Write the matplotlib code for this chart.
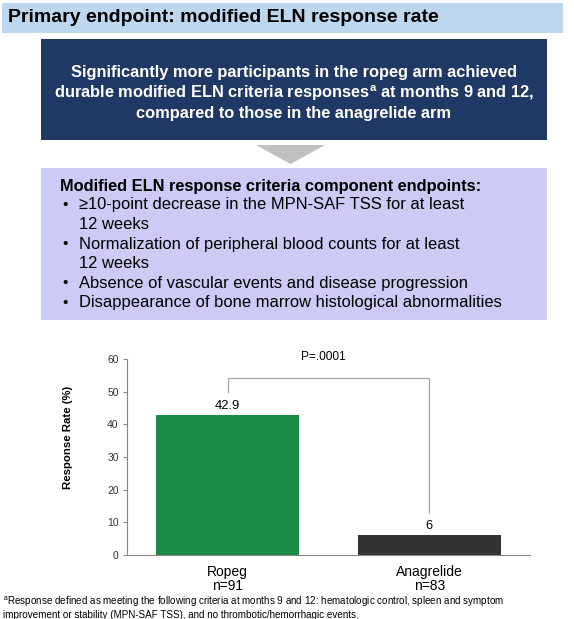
import matplotlib
matplotlib.use("Agg")
import matplotlib.pyplot as plt
from matplotlib.patches import Rectangle, Polygon

plt.rcParams['font.family'] = ['Liberation Sans', 'DejaVu Sans']

# data
arms = ['Ropeg', 'Anagrelide']
n_per_arm = [91, 83]
response_rate = [42.9, 6]
bar_colors = ['#1a8c47', '#333333']
p_value = 'P=.0001'

title = 'Primary endpoint: modified ELN response rate'
headline = ('Significantly more participants in the ropeg arm achieved\n'
            'durable modified ELN criteria responses$^{\\mathregular{a}}$ at months 9 and 12,\n'
            'compared to those in the anagrelide arm')
criteria_header = 'Modified ELN response criteria component endpoints:'
criteria = [
    '\u226510-point decrease in the MPN-SAF TSS for at least\n12 weeks',
    'Normalization of peripheral blood counts for at least\n12 weeks',
    'Absence of vascular events and disease progression',
    'Disappearance of bone marrow histological abnormalities',
]
footnote = ('$^{\\mathregular{a}}$Response defined as meeting the following criteria at months 9 and 12: '
            'hematologic control, spleen and symptom\n'
            'improvement or stability (MPN-SAF TSS), and no thrombotic/hemorrhagic events.')

W, H = 574, 619
fig = plt.figure(figsize=(W / 100, H / 100), dpi=100)


def fx(px):
    return px / W


def fy(py):
    return 1 - py / H


def box(x0, y0, x1, y1, color):
    fig.patches.append(Rectangle((fx(x0), fy(y1)), fx(x1) - fx(x0), fy(y0) - fy(y1),
                                 transform=fig.transFigure, facecolor=color,
                                 edgecolor='none', zorder=0))


# title band
box(2, 3, 563, 33, '#bdd7ee')
fig.text(fx(8), fy(18), title, fontsize=14, fontweight='bold', va='center', color='black')

# headline box
box(41, 39, 547, 140, '#1f3864')
fig.text(fx(294), fy(93), headline, fontsize=11.8, fontweight='bold', color='white',
         ha='center', va='center', linespacing=1.22)

# arrow
fig.patches.append(Polygon([(fx(256), fy(145)), (fx(325), fy(145)), (fx(290.5), fy(164))],
                           closed=True, transform=fig.transFigure,
                           facecolor='#bfbfbf', edgecolor='none'))

# criteria box
box(41, 168, 547, 320, '#cbcbf5')
fig.text(fx(60), fy(186), criteria_header, fontsize=11.8, fontweight='bold', va='center')
y = 205
for item in criteria:
    parts = item.split('\n')
    fig.text(fx(62), fy(y), '\u2022', fontsize=11, va='center')
    for part in parts:
        fig.text(fx(79), fy(y), part, fontsize=11.9, va='center')
        y += 19.6

# chart
ax = fig.add_axes([fx(127), fy(555), fx(530) - fx(127), fy(359) - fy(555)])
x = list(range(len(arms)))
ax.bar(x, response_rate, width=0.71, color=bar_colors)
ax.set_xlim(-0.5, 1.5)
ax.set_ylim(0, 60)
ax.set_yticks(range(0, 61, 10))
ax.set_xticks(x)
ax.set_xticklabels([f'{a}\nn={n}' for a, n in zip(arms, n_per_arm)], fontsize=10,
                   linespacing=1.0)
ax.tick_params(axis='x', length=0, pad=7)
ax.tick_params(axis='y', labelsize=7.5, length=3, color='#888888', labelcolor='#333333', pad=3)
for s in ['top', 'right']:
    ax.spines[s].set_visible(False)
ax.spines['left'].set_color('#888888')
ax.spines['bottom'].set_color('#888888')
ax.set_ylabel('Response Rate (%)', fontsize=8.2, fontweight='bold')
ax.yaxis.set_label_coords(-0.133, 0.60)

for xi, v in zip(x, response_rate):
    ax.text(xi, v + 1.0, f'{v:g}', ha='center', va='bottom', fontsize=9.3)

top = 54.2
ax.plot([x[0], x[0], x[1], x[1]],
        [response_rate[0] + 7, top, top, response_rate[1] + 7],
        color='#a6a6a6', lw=0.9, clip_on=False)
ax.text(0.475, 60.5, p_value, ha='center', va='center', fontsize=8.6)

# footnote
fig.text(fx(3), fy(607), footnote, fontsize=7.1, va='center', linespacing=1.15)

fig.savefig('out.png', dpi=100)
